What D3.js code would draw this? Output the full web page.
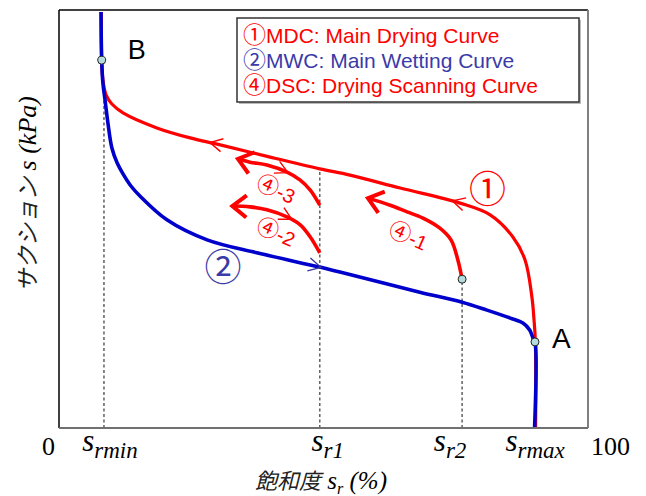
<!DOCTYPE html>
<meta charset="utf-8">

<head>
    <title>Soil water characteristic curve - hysteresis</title>
    <script type="text/javascript" src="https://cdn.jsdelivr.net/npm/d3@7"></script>
    <style>
        body { margin: 0; background: #fff; }
        .sans { font-family: "Liberation Sans", Arial, sans-serif; }
        .serif { font-family: "Liberation Serif", "Times New Roman", serif; }
        .cjk { font-family: "Noto Sans CJK JP", sans-serif; }
    </style>
</head>

<body>
    <div id="chart"></div>

    <script>
        var width = 646;
        var height = 496;
        var margin = { top: 10, right: 58, bottom: 68, left: 59 };

        // data: [degree of saturation sr (%), suction s (relative, 0-100)]
        // main drying curve (1)
        var mdc = [[8.0, 99.5], [8.07, 88.0], [8.3, 83.3], [8.9, 79.7], [10.0, 77.5], [12.1, 75.4],
            [18.5, 71.8], [24.8, 69.4], [29.9, 67.9], [39.9, 64.8], [49.3, 62.0], [55.0, 60.5],
            [64.5, 57.4], [75.8, 53.8], [81.5, 51.0], [85.8, 45.7], [88.1, 40.2], [89.4, 31.3],
            [89.8, 25.8], [90.05, 20.6], [90.1, 0]];
        // main wetting curve (2)
        var mwc = [[7.94, 99.5], [8.07, 88.0], [8.3, 82.5], [8.7, 78.5], [9.3, 72.5], [10.0, 67.0],
            [11.0, 63.4], [12.1, 60.8], [13.6, 57.9], [15.3, 55.5], [20.4, 49.8], [28.0, 45.0],
            [37.4, 41.9], [49.3, 38.5], [53.1, 37.3], [68.2, 32.5], [76.2, 30.1], [80.9, 28.2],
            [85.3, 26.3], [87.7, 25.1], [89.0, 23.4], [89.6, 21.5], [89.98, 20.6], [89.9, 0]];
        // drying scanning curves (4)-1, (4)-2, (4)-3
        var dsc1 = [[76.2, 35.6], [75.4, 40.2], [74.1, 45.0], [72.0, 47.8], [68.8, 50.2],
            [65.8, 51.7], [62.6, 53.3], [58.4, 55.0]];
        var dsc2 = [[49.3, 41.9], [47.5, 45.7], [45.6, 48.6], [43.1, 50.5], [39.3, 52.2],
            [36.1, 52.9], [32.7, 53.1]];
        var dsc3 = [[49.3, 53.3], [47.5, 56.9], [45.6, 59.3], [43.1, 61.2], [39.3, 62.9],
            [36.1, 63.6], [33.8, 64.4]];

        // reference saturations on the x axis and where their guide lines stop
        var srMarks = [{ sub: "rmin", sr: 8.5, top: 80 }, { sub: "r1", sr: 49.3, top: 62.0 },
            { sub: "r2", sr: 76.2, top: 35.6 }, { sub: "rmax", sr: 90.0, top: null }];
        var endTicks = [{ v: 0, text: "0" }, { v: 100, text: "100" }];
        var points = [{ name: "B", sr: 8.07, s: 88.0 }, { name: "A", sr: 89.98, s: 20.6 },
            { name: "", sr: 76.2, s: 35.6 }];

        var legendItems = [
            { num: "\u2460", text: "MDC: Main Drying Curve", color: "#ff0000" },
            { num: "\u2461", text: "MWC: Main Wetting Curve", color: "#3a3aa8" },
            { num: "\u2463", text: "DSC: Drying Scanning Curve", color: "#ff0000" }
        ];

        // direction arrows placed on the curves (dir: 1 = along data order)
        var midArrows = [
            { curve: "mdc", at: [28.5, 68.2], dir: -1 },
            { curve: "mdc", at: [74.3, 54.2], dir: -1 },
            { curve: "mwc", at: [49.5, 38.5], dir: 1 },
            { curve: "dsc3", at: [43.3, 61.3], dir: -1 },
            { curve: "dsc2", at: [44.0, 50.0], dir: -1 }
        ];

        var svg = d3.select("#chart")
            .append("svg")
            .attr("width", width)
            .attr("height", height);

        var x = d3.scaleLinear().domain([0, 100]).range([margin.left, width - margin.right]);
        var y = d3.scaleLinear().domain([0, 100]).range([height - margin.bottom, margin.top]);

        var line = d3.line()
            .x(function (d) { return x(d[0]); })
            .y(function (d) { return y(d[1]); })
            .curve(d3.curveCatmullRom.alpha(0.5));

        // dotted guide lines
        svg.selectAll(".guide")
            .data(srMarks.filter(function (d) { return d.top !== null; }))
            .enter()
            .append("line")
            .attr("class", "guide")
            .attr("x1", function (d) { return x(d.sr); })
            .attr("x2", function (d) { return x(d.sr); })
            .attr("y1", y(0))
            .attr("y2", function (d) { return y(d.top); })
            .attr("stroke", "#555")
            .attr("stroke-width", 1.4)
            .attr("stroke-dasharray", "3,2.5");

        // curves
        var curves = {};
        function drawCurve(name, data, color, sw) {
            curves[name] = svg.append("path")
                .datum(data)
                .attr("d", line)
                .attr("fill", "none")
                .attr("stroke", color)
                .attr("stroke-width", sw)
                .attr("stroke-linejoin", "round")
                .node();
        }
        drawCurve("mdc", mdc, "#ff0000", 3.2);
        drawCurve("mwc", mwc, "#0000cc", 3.6);
        drawCurve("dsc1", dsc1, "#ff0000", 3.6);
        drawCurve("dsc2", dsc2, "#ff0000", 3.6);
        drawCurve("dsc3", dsc3, "#ff0000", 3.6);

        // chevron arrow on a path, found at the nearest point to target
        function chevron(node, target, dir, len, ang, color, sw) {
            var total = node.getTotalLength();
            var tx = x(target[0]), ty = y(target[1]);
            var best = 0, bd = Infinity;
            for (var l = 0; l <= total; l += 0.5) {
                var p = node.getPointAtLength(l);
                var dd = (p.x - tx) * (p.x - tx) + (p.y - ty) * (p.y - ty);
                if (dd < bd) { bd = dd; best = l; }
            }
            var tip = node.getPointAtLength(best);
            var a = node.getPointAtLength(Math.max(0, best - 4));
            var b = node.getPointAtLength(Math.min(total, best + 4));
            var dx = (b.x - a.x) * dir, dy = (b.y - a.y) * dir;
            var n = Math.sqrt(dx * dx + dy * dy);
            dx /= n; dy /= n;
            var r = ang * Math.PI / 180;
            function barb(s) {
                var c = Math.cos(s * r), si = Math.sin(s * r);
                return [tip.x - len * (dx * c - dy * si), tip.y - len * (dx * si + dy * c)];
            }
            var p1 = barb(1), p2 = barb(-1);
            svg.append("path")
                .attr("d", "M" + p1 + "L" + [tip.x, tip.y] + "L" + p2)
                .attr("fill", "none")
                .attr("stroke", color)
                .attr("stroke-width", sw)
                .attr("stroke-linejoin", "miter");
        }

        midArrows.forEach(function (m) {
            var col = m.curve === "mwc" ? "#3a3a9a" : "#ff0000";
            chevron(curves[m.curve], m.at, m.dir, 14, 28, col, 1.4);
        });
        [["dsc1", dsc1], ["dsc2", dsc2], ["dsc3", dsc3]].forEach(function (c) {
            var last = c[1][c[1].length - 1];
            chevron(curves[c[0]], last, 1, 18, 38, "#ff0000", 4);
        });

        // frame
        var x0 = x(0), x1 = x(100), y0 = y(0), y1 = y(100);
        svg.append("line").attr("x1", x0).attr("x2", x0).attr("y1", y1).attr("y2", y0)
            .attr("stroke", "#000").attr("stroke-width", 1.5);
        svg.append("line").attr("x1", x0).attr("x2", x1).attr("y1", y1).attr("y2", y1)
            .attr("stroke", "#000").attr("stroke-width", 1.5);
        svg.append("line").attr("x1", x1).attr("x2", x1).attr("y1", y1).attr("y2", y0)
            .attr("stroke", "#808080").attr("stroke-width", 2);
        svg.append("line").attr("x1", x0).attr("x2", x1).attr("y1", y0).attr("y2", y0)
            .attr("stroke", "#707070").attr("stroke-width", 2);

        // points A, B and s_r2
        svg.selectAll(".pt")
            .data(points)
            .enter()
            .append("circle")
            .attr("class", "pt")
            .attr("cx", function (d) { return x(d.sr); })
            .attr("cy", function (d) { return y(d.s); })
            .attr("r", 4)
            .attr("fill", "#b4dcdc")
            .attr("stroke", "#222")
            .attr("stroke-width", 1);

        svg.append("text").attr("class", "sans")
            .attr("x", x(points[0].sr) + 26).attr("y", y(points[0].s) - 1)
            .style("font-size", "27px").text(points[0].name);
        svg.append("text").attr("class", "sans")
            .attr("x", x(points[1].sr) + 17).attr("y", y(points[1].s) + 6)
            .style("font-size", "28px").text(points[1].name);

        // curve numbers
        svg.append("text").attr("class", "cjk")
            .attr("x", x(81.0)).attr("y", y(57.6))
            .attr("text-anchor", "middle").attr("dominant-baseline", "central")
            .style("font-size", "37px").attr("fill", "#ff0000").text("\u2460");
        svg.append("text").attr("class", "cjk")
            .attr("x", x(31.0)).attr("y", y(39.0))
            .attr("text-anchor", "middle").attr("dominant-baseline", "central")
            .style("font-size", "37px").attr("fill", "#3a3aa8").text("\u2461");

        var dscLabels = [{ t: "-1", sr: 66.0, s: 45.8 }, { t: "-2", sr: 41.0, s: 46.7 },
            { t: "-3", sr: 41.0, s: 57.0 }];
        dscLabels.forEach(function (d) {
            var g = svg.append("g")
                .attr("transform", "translate(" + x(d.sr) + "," + y(d.s) + ") rotate(24)");
            var t = g.append("text").attr("text-anchor", "middle").attr("y", 7)
                .attr("fill", "#ff0000");
            t.append("tspan").attr("class", "cjk").style("font-size", "22px").text("\u2463");
            t.append("tspan").attr("class", "sans").style("font-size", "20px").text(d.t);
        });

        // legend
        var legend = svg.append("g").attr("class", "legend")
            .attr("transform", "translate(237,18)");
        legend.append("rect").attr("x", 2).attr("y", 2).attr("width", 342).attr("height", 84)
            .attr("fill", "#bbb");
        legend.append("rect").attr("width", 342).attr("height", 84)
            .attr("fill", "#fff").attr("stroke", "#333").attr("stroke-width", 1.5);
        legend.selectAll(".item")
            .data(legendItems)
            .enter()
            .append("text")
            .attr("class", "item")
            .attr("x", 6)
            .attr("y", function (d, i) { return 25 + i * 25; })
            .attr("fill", function (d) { return d.color; })
            .each(function (d) {
                var t = d3.select(this);
                t.append("tspan").attr("class", "cjk").style("font-size", "23px").text(d.num);
                t.append("tspan").attr("class", "sans").style("font-size", "21px").text(d.text);
            });

        // x axis labels
        svg.selectAll(".endtick")
            .data(endTicks)
            .enter()
            .append("text")
            .attr("class", "serif endtick")
            .attr("x", function (d) { return d.v === 0 ? x(d.v) - 4 : x(d.v) + 3; })
            .attr("y", 455)
            .attr("text-anchor", function (d) { return d.v === 0 ? "end" : "start"; })
            .style("font-size", "26px")
            .text(function (d) { return d.text; });

        var labelShift = { rmin: 6, r1: 8, r2: -12, rmax: 0 };
        srMarks.forEach(function (d) {
            var t = svg.append("text").attr("class", "serif")
                .attr("x", x(d.sr) + labelShift[d.sub]).attr("y", 451)
                .attr("text-anchor", "middle")
                .style("font-style", "italic");
            t.append("tspan").style("font-size", "31px").text("s");
            t.append("tspan").attr("dy", 7).style("font-size", "23px").text(d.sub);
        });

        // axis titles
        var xt = svg.append("text")
            .attr("x", 321).attr("y", 489)
            .attr("text-anchor", "middle")
            .style("font-style", "italic");
        xt.append("tspan").attr("class", "cjk").style("font-size", "22px").attr("fill", "#222").text("飽和度");
        xt.append("tspan").attr("class", "serif").style("font-size", "25px").text(" s");
        xt.append("tspan").attr("class", "serif").attr("dy", 5).style("font-size", "16px").text("r");
        xt.append("tspan").attr("class", "serif").attr("dy", -5).style("font-size", "25px").text(" (%)");

        var yt = svg.append("text")
            .attr("transform", "translate(36,194) rotate(-90)")
            .attr("text-anchor", "middle")
            .style("font-style", "italic");
        yt.append("tspan").attr("class", "cjk").style("font-size", "23px").attr("fill", "#222").text("サクション");
        yt.append("tspan").attr("class", "serif").style("font-size", "26px").text(" s (kPa)");
    </script>
</body>

</html>
